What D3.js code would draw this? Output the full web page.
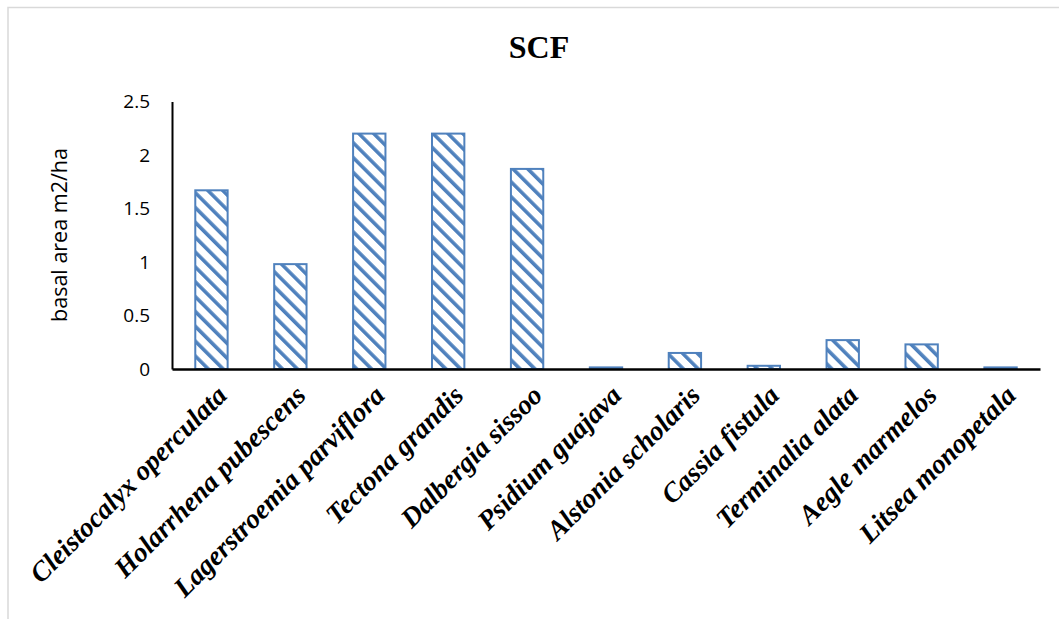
<!DOCTYPE html>
<html>
<head>
<meta charset="utf-8">
<script src="https://cdn.jsdelivr.net/npm/d3@7"></script>
<style>
  html, body { margin: 0; padding: 0; background: #fff; }
  svg { display: block; }
</style>
</head>
<body>
<script>
// Basal area (m2/ha) of species in SCF
const species = [
  "Cleistocalyx operculata", "Holarrhena pubescens", "Lagerstroemia parviflora",
  "Tectona grandis", "Dalbergia sissoo", "Psidium guajava", "Alstonia scholaris",
  "Cassia fistula", "Terminalia alata", "Aegle marmelos", "Litsea monopetala"
];
const basalArea = [1.67, 0.98, 2.20, 2.20, 1.87, 0.015, 0.15, 0.03, 0.27, 0.23, 0.015];
const yTicks = [0, 0.5, 1, 1.5, 2, 2.5];
const chartTitle = "SCF";
const yTitle = "basal area m2/ha";

const W = 1059, H = 619;
const margin = { left: 172, right: 19, top: 101.5, bottom: 250 };
const axisY = 369;

const svg = d3.select("body").append("svg")
  .attr("width", W).attr("height", H);

// hatch fill: wide downward diagonal
const defs = svg.append("defs");
const pat = defs.append("pattern")
  .attr("id", "hatch")
  .attr("patternUnits", "userSpaceOnUse")
  .attr("width", 10.5).attr("height", 10.5)
  .attr("patternTransform", "rotate(-45)");
pat.append("rect").attr("width", 10.5).attr("height", 10.5).attr("fill", "#fff");
pat.append("rect").attr("x", 0).attr("width", 3.6).attr("height", 10.5).attr("fill", "#4F81BD");

// chart area border
svg.append("rect")
  .attr("x", 8).attr("y", 7.5)
  .attr("width", W + 20).attr("height", H + 20)
  .attr("fill", "none").attr("stroke", "#d9d9d9").attr("stroke-width", 1.5);

const x = d3.scaleBand()
  .domain(species)
  .range([margin.left, 1040])
  .paddingInner(0.59).paddingOuter(0.295);

const y = d3.scaleLinear()
  .domain([0, 2.5])
  .range([axisY, margin.top]);

// title
svg.append("text")
  .attr("x", 539).attr("y", 58)
  .attr("text-anchor", "middle")
  .attr("font-family", "'Liberation Serif', 'Times New Roman', serif")
  .attr("font-weight", "bold")
  .attr("font-size", 32)
  .attr("fill", "#000")
  .text(chartTitle);

// bars
svg.append("g").selectAll("rect")
  .data(species.map((s, i) => ({ s, v: basalArea[i] })))
  .join("rect")
  .attr("x", d => x(d.s))
  .attr("y", d => y(d.v))
  .attr("width", x.bandwidth())
  .attr("height", d => axisY - y(d.v))
  .attr("fill", "url(#hatch)")
  .attr("stroke", "#4F81BD")
  .attr("stroke-width", 2);

// y axis
const yAxis = d3.axisLeft(y).tickValues(yTicks).tickSize(0).tickPadding(22)
  .tickFormat(d3.format("~g"));
const gy = svg.append("g").attr("transform", `translate(${margin.left},0)`).call(yAxis);
gy.select(".domain").attr("stroke", "#000").attr("stroke-width", 2);
gy.selectAll("text")
  .attr("font-family", "'Open Sans', 'Liberation Sans', sans-serif")
  .attr("font-size", 19)
  .attr("fill", "#000");

// x axis
const xAxis = d3.axisBottom(x).tickSize(0).tickFormat("");
const gx = svg.append("g").attr("transform", `translate(0,${axisY})`).call(xAxis);
gx.select(".domain").attr("stroke", "#000").attr("stroke-width", 2.5);

// category labels, rotated
svg.append("g").selectAll("text")
  .data(species)
  .join("text")
  .attr("transform", d => `translate(${x(d) + x.bandwidth() / 2 + 17},${axisY + 28}) rotate(-45)`)
  .attr("text-anchor", "end")
  .attr("font-family", "'Liberation Serif', 'Times New Roman', serif")
  .attr("font-weight", "bold")
  .attr("font-style", "italic")
  .attr("font-size", 27.5)
  .attr("fill", "#000")
  .text(d => d);

// y axis title
svg.append("text")
  .attr("transform", `translate(67,${235}) rotate(-90)`)
  .attr("text-anchor", "middle")
  .attr("font-family", "'Open Sans', 'Liberation Sans', sans-serif")
  .attr("font-size", 21.5)
  .attr("fill", "#000")
  .text(yTitle);
</script>
</body>
</html>
